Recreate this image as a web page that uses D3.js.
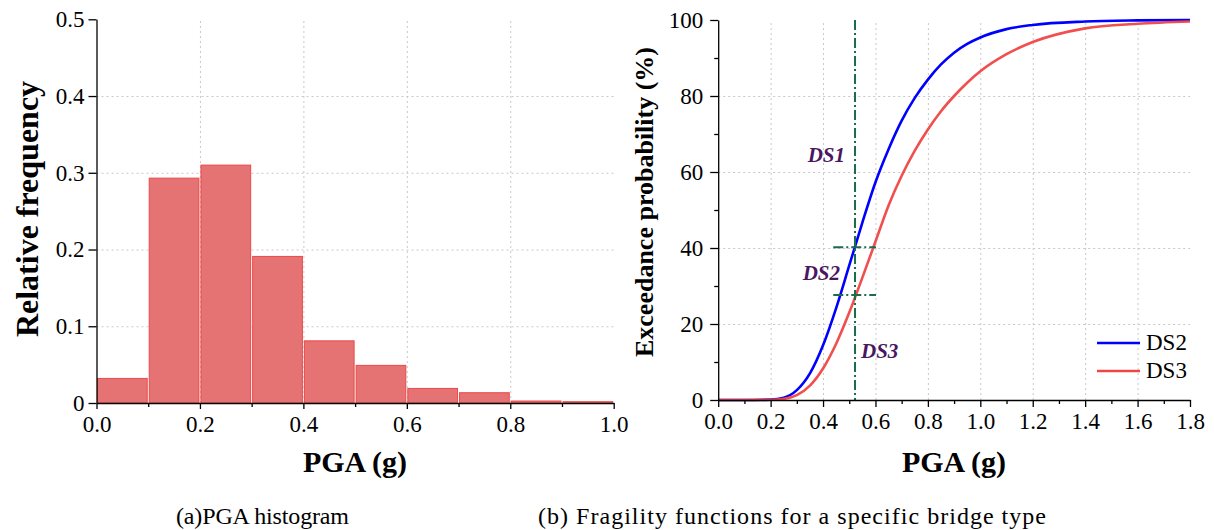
<!DOCTYPE html>
<html>
<head>
<meta charset="utf-8">
<script src="https://cdn.jsdelivr.net/npm/d3@7"></script>
<style>
  body { margin: 0; background: #fff; }
  svg { display: block; font-family: "Liberation Serif", "Times New Roman", serif; }
  svg text { font-family: "Liberation Serif", "Times New Roman", serif; }
  .grid line { stroke: #c8c8c8; stroke-width: 1; stroke-dasharray: 2,3; }
  .grid .domain { display: none; }
  .axis path, .axis line { stroke: #000; stroke-width: 1.3; }
  .axis text { font-size: 23px; fill: #000; }
</style>
</head>
<body>
<div id="chart"></div>
<script>
// histogram (a)
var binStart = [0.0, 0.1, 0.2, 0.3, 0.4, 0.5, 0.6, 0.7, 0.8, 0.9];
var binWidth = 0.1;
var relFreq = [0.032, 0.293, 0.310, 0.191, 0.081, 0.049, 0.019, 0.0134, 0.0026, 0.0017];
var histXTicks = [0, 0.2, 0.4, 0.6, 0.8, 1.0];
var histYTicks = [0, 0.1, 0.2, 0.3, 0.4, 0.5];

// fragility curves (b)
var pga = [0, 0.1, 0.2, 0.25, 0.3, 0.35, 0.4, 0.45, 0.5, 0.55, 0.6, 0.65, 0.7, 0.75, 0.8, 0.85, 0.9, 0.95, 1.0, 1.1, 1.2, 1.4, 1.6, 1.8];
var ds2 = [0, 0, 0.1, 0.6, 2.6, 7.0, 14.4, 24.2, 35.4, 46.7, 57.3, 66.0, 73.5, 79.5, 84.3, 88.3, 91.4, 93.7, 95.4, 97.6, 98.7, 99.6, 99.9, 100];
var ds3 = [0, 0, 0.05, 0.3, 1.3, 3.8, 8.3, 14.8, 23.0, 32.2, 41.7, 51.2, 59.0, 65.6, 71.2, 76.0, 80.0, 83.5, 86.5, 91.0, 94.2, 97.8, 99.0, 99.6];
var seriesNames = ['DS2', 'DS3'];
var seriesColors = ['#0000ff', '#f04545'];
var fragXTicks = [0, 0.2, 0.4, 0.6, 0.8, 1.0, 1.2, 1.4, 1.6, 1.8];
var fragYTicks = [0, 20, 40, 60, 80, 100];
// marker line and where it meets the curves
var markPga = 0.522;
var markProb = [40.2, 27.6];
var markLabels = ['DS1', 'DS2', 'DS3'];

var captions = ['(a)PGA histogram', '(b) Fragility functions for a specific bridge type'];

var svg = d3.select('#chart').append('svg')
    .attr('width', 1214)
    .attr('height', 530);

// ---------- left: histogram ----------
var hx = d3.scaleLinear().domain([0, 1]).range([96.5, 613.7]);
var hy = d3.scaleLinear().domain([0, 0.5]).range([403, 19.3]);

svg.append('g').attr('class', 'grid')
    .attr('transform', 'translate(0,' + hy(0) + ')')
    .call(d3.axisBottom(hx).tickValues([0.2, 0.4, 0.6, 0.8]).tickSize(-(hy(0) - hy(0.5))).tickFormat(''));
svg.append('g').attr('class', 'grid')
    .attr('transform', 'translate(' + hx(0) + ',0)')
    .call(d3.axisLeft(hy).tickValues([0.1, 0.2, 0.3, 0.4]).tickSize(-(hx(1) - hx(0))).tickFormat(''));

svg.append('g').selectAll('rect')
    .data(relFreq)
    .enter().append('rect')
    .attr('x', function(d, i) { return hx(binStart[i]) + 1; })
    .attr('width', function(d, i) { return hx(binStart[i] + binWidth) - hx(binStart[i]) - 2; })
    .attr('y', function(d) { return hy(d); })
    .attr('height', function(d) { return hy(0) - hy(d); })
    .attr('fill', '#e57373')
    .attr('stroke', '#ec4848')
    .attr('stroke-width', 1);

svg.append('g').attr('class', 'axis')
    .attr('transform', 'translate(0,' + hy(0) + ')')
    .call(d3.axisBottom(hx).tickValues(histXTicks).tickSize(6).tickPadding(7).tickSizeOuter(0)
        .tickFormat(d3.format('.1f')));
svg.append('g').attr('class', 'axis')
    .attr('transform', 'translate(0,' + hy(0) + ')')
    .call(d3.axisBottom(hx).tickValues([0.1, 0.3, 0.5, 0.7, 0.9]).tickSize(4).tickSizeOuter(0).tickFormat(''))
    .select('.domain').remove();
svg.append('g').attr('class', 'axis')
    .attr('transform', 'translate(' + hx(0) + ',0)')
    .call(d3.axisLeft(hy).tickValues(histYTicks).tickSize(8).tickPadding(4).tickSizeOuter(0)
        .tickFormat(function(d) { return d === 0 ? '0' : d.toFixed(1); }));

svg.append('text')
    .attr('transform', 'translate(38,209) rotate(-90)')
    .attr('text-anchor', 'middle')
    .style('font-size', '32px').style('font-weight', 'bold')
    .text('Relative frequency');
svg.append('text')
    .attr('x', 355).attr('y', 472)
    .attr('text-anchor', 'middle')
    .style('font-size', '30px').style('font-weight', 'bold')
    .text('PGA (g)');

// ---------- right: fragility functions ----------
var fx = d3.scaleLinear().domain([0, 1.8]).range([718.2, 1190]);
var fy = d3.scaleLinear().domain([0, 100]).range([400, 20]);

svg.append('g').attr('class', 'grid')
    .attr('transform', 'translate(0,' + fy(0) + ')')
    .call(d3.axisBottom(fx).tickValues([0.2, 0.4, 0.6, 0.8, 1.0, 1.2, 1.4, 1.6]).tickSize(-(fy(0) - fy(100))).tickFormat(''));
svg.append('g').attr('class', 'grid')
    .attr('transform', 'translate(' + fx(0) + ',0)')
    .call(d3.axisLeft(fy).tickValues([20, 40, 60, 80]).tickSize(-(fx(1.8) - fx(0))).tickFormat(''));

var line = d3.line()
    .x(function(d) { return fx(d[0]); })
    .y(function(d) { return fy(d[1]); })
    .curve(d3.curveMonotoneX);

[ds2, ds3].forEach(function(vals, k) {
    svg.append('path')
        .datum(pga.map(function(p, i) { return [p, vals[i]]; }))
        .attr('d', line)
        .attr('fill', 'none')
        .attr('stroke', seriesColors[k])
        .attr('stroke-width', 2.6)
        .attr('stroke-opacity', k === 1 ? 0.95 : 1);
});

var markColor = '#1b6b4c';
svg.append('line')
    .attr('x1', fx(markPga)).attr('x2', fx(markPga))
    .attr('y1', fy(100)).attr('y2', fy(0))
    .attr('stroke', markColor).attr('stroke-width', 2)
    .attr('stroke-dasharray', '10,3,2,3');
svg.selectAll('.hmark')
    .data(markProb)
    .enter().append('line')
    .attr('class', 'hmark')
    .attr('x1', fx(markPga - 0.083)).attr('x2', fx(markPga + 0.08))
    .attr('y1', function(d) { return fy(d); })
    .attr('y2', function(d) { return fy(d); })
    .attr('stroke', markColor).attr('stroke-width', 2)
    .attr('stroke-dasharray', '10,3,2,3');

var labelPos = [[845, 162, 'end'], [840, 280, 'end'], [861, 358, 'start']];
markLabels.forEach(function(t, i) {
    svg.append('text')
        .attr('x', labelPos[i][0]).attr('y', labelPos[i][1])
        .attr('text-anchor', labelPos[i][2])
        .style('font-size', '21px').style('font-weight', 'bold').style('font-style', 'italic')
        .attr('fill', '#4a1660')
        .text(t);
});

svg.append('g').attr('class', 'axis')
    .attr('transform', 'translate(0,' + fy(0) + ')')
    .call(d3.axisBottom(fx).tickValues(fragXTicks).tickSize(7).tickPadding(6).tickSizeOuter(0)
        .tickFormat(d3.format('.1f')));
svg.append('g').attr('class', 'axis')
    .attr('transform', 'translate(0,' + fy(0) + ')')
    .call(d3.axisBottom(fx).tickValues(d3.range(0.1, 1.8, 0.2)).tickSize(4).tickSizeOuter(0).tickFormat(''))
    .select('.domain').remove();
svg.append('g').attr('class', 'axis')
    .attr('transform', 'translate(' + fx(0) + ',0)')
    .call(d3.axisLeft(fy).tickValues(fragYTicks).tickSize(8).tickPadding(7).tickSizeOuter(0));
svg.append('g').attr('class', 'axis')
    .attr('transform', 'translate(' + fx(0) + ',0)')
    .call(d3.axisLeft(fy).tickValues([10, 30, 50, 70, 90]).tickSize(4).tickSizeOuter(0).tickFormat(''))
    .select('.domain').remove();

svg.append('text')
    .attr('transform', 'translate(653,202) rotate(-90)')
    .attr('text-anchor', 'middle')
    .style('font-size', '26px').style('font-weight', 'bold')
    .text('Exceedance probability (%)');
svg.append('text')
    .attr('x', 954).attr('y', 472)
    .attr('text-anchor', 'middle')
    .style('font-size', '30px').style('font-weight', 'bold')
    .text('PGA (g)');

// legend
var legend = svg.selectAll('.legendItem')
    .data(seriesNames)
    .enter().append('g')
    .attr('class', 'legendItem')
    .attr('transform', function(d, i) { return 'translate(1097,' + (343 + 28 * i) + ')'; });
legend.append('line')
    .attr('x1', 0).attr('x2', 43)
    .attr('stroke', function(d, i) { return seriesColors[i]; })
    .attr('stroke-width', 2.6);
legend.append('text')
    .attr('x', 49).attr('y', 7)
    .style('font-size', '23px')
    .text(function(d) { return d; });

// captions
var capX = [176, 538], capW = [173, 508];
svg.selectAll('.caption')
    .data(captions)
    .enter().append('text')
    .attr('class', 'caption')
    .attr('x', function(d, i) { return capX[i]; })
    .attr('y', 524)
    .attr('textLength', function(d, i) { return capW[i]; })
    .style('font-size', '24px')
    .text(function(d) { return d; });
</script>
</body>
</html>
